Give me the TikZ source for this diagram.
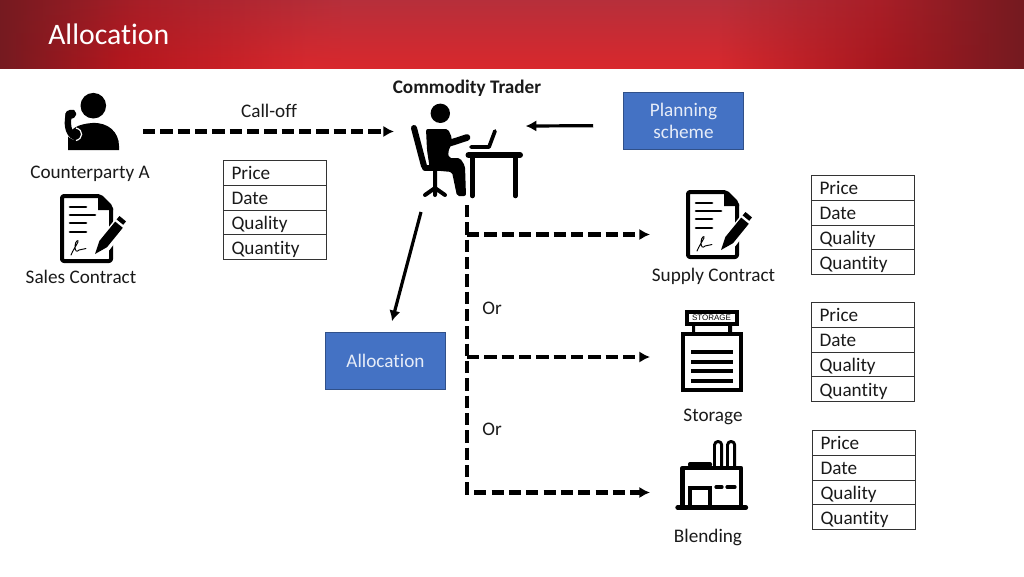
\documentclass[tikz,border=0pt]{standalone}
\usepackage{fontspec}
\setmainfont{Carlito}[RawFeature={-liga;-clig}]
\newfontfamily\signfont{Liberation Sans}
\usetikzlibrary{arrows.meta,calc,fadings,shadings}
\definecolor{bandark}{HTML}{751A20}
\definecolor{banmid}{HTML}{B5161D}
\definecolor{banmidr}{HTML}{A8181F}
\definecolor{banmidt}{HTML}{A81F28}
\definecolor{banlight}{HTML}{D9282D}
\definecolor{bantop}{HTML}{B5303C}
\definecolor{boxblue}{HTML}{4472C4}
\definecolor{boxtext}{HTML}{E6ECF8}
\definecolor{labeltext}{HTML}{1A1A1A}
\pgfdeclarehorizontalshading{bannerh}{100bp}{color(0bp)=(bandark);color(25bp)=(bandark);color(31bp)=(banmid);color(40bp)=(banlight);color(60bp)=(banlight);color(68bp)=(banmidr);color(75bp)=(bandark);color(100bp)=(bandark)}
\pgfdeclarehorizontalshading{bannertop}{100bp}{color(0bp)=(bandark);color(25bp)=(bandark);color(32bp)=(banmidt);color(42bp)=(bantop);color(60bp)=(bantop);color(68bp)=(banmidt);color(75bp)=(bandark);color(100bp)=(bandark)}
\tikzfading[name=topfade,top color=transparent!5,bottom color=transparent!100]
\tikzset{
  x=0.75pt,y=-0.75pt,
  lbl/.style={font=\fontsize{14.4pt}{17pt}\selectfont,text=labeltext,inner sep=0pt,align=center,anchor=base},
  rowcell/.style={draw=black!80,line width=0.75pt,anchor=north west,minimum height=18.6pt,text width=65.25pt,text height=12pt,text depth=1.5pt,inner xsep=6pt,inner ysep=0pt,align=left,font=\fontsize{14.4pt}{17pt}\selectfont,text=labeltext},
  bluebox/.style={fill=boxblue,draw=boxblue!70!black,line width=0.4pt,text=boxtext,font=\fontsize{14.4pt}{17pt}\selectfont,align=center,minimum width=90pt,minimum height=42.75pt,inner sep=0pt},
  iconbox/.style={draw=none,inner sep=0pt,outer sep=0pt,minimum width=#1},
  tipped/.style={-{Latex[length=8pt,width=8.5pt]}},
  dashline/.style={line width=3.2pt,dash pattern=on 9.2pt off 3.8pt,tipped},
  solidline/.style={line width=2.4pt,tipped},
  ink/.style={draw=black,line cap=round,line join=round},
}
\newcommand{\quadtable}[3]{%
  \node[rowcell] (#1a) at (#2,#3) {Price};
  \node[rowcell] (#1b) at (#2,#3+24.75) {Date};
  \node[rowcell] (#1c) at (#2,#3+49.5) {Quality};
  \node[rowcell] (#1d) at (#2,#3+74.25) {Quantity};
}
\newcommand{\contracticon}[2]{%
  \begin{scope}[shift={(#1,#2)}]
    \draw[ink,line width=3pt,rounded corners=1.5pt,fill=white] (2,2) -- (40,2) -- (51,13) -- (51,67) -- (2,67) -- cycle;
    \fill[black] (38,1) -- (53,14) -- (53,16) -- (38,16) -- cycle;
    \draw[ink,line width=2pt] (10,13) -- (26,13) (10,21) -- (35,21) (10,29) -- (26,29) (10,38) -- (26,38);
    \draw[draw=white,line width=11pt] (63,27) -- (40,56);
    \fill[black] (35,60) -- (39.4,46.9) -- (55.2,27.6) -- (62.8,33.8) -- (47,53.2) -- cycle;
    \fill[black] (56.6,25.4) -- (59.5,22) -- (66,27.4) -- (63.2,30.8) -- cycle;
    \draw[black,line width=0.7pt,line cap=round] (11,61) .. controls (13,56) and (16,52) .. (18,48) .. controls (19,45) and (15,47) .. (15,52) .. controls (15,58) and (17,58) .. (19,56) -- (26,54.5);
  \end{scope}
}
\begin{document}
\begin{tikzpicture}
\useasboundingbox (0,0) rectangle (1024,576);
\fill[white] (0,0) rectangle (1024,576);
% banner
\shade[shading=bannerh] (0,0) rectangle (1024,68);
\shade[shading=bannertop,path fading=topfade] (0,0) rectangle (1024,68);
\node[anchor=west,text=white,inner sep=0pt,font=\fontsize{22.3pt}{26pt}\selectfont] (title) at (48,34) {Allocation};

% invisible holders of the icons
\node[iconbox=42pt,minimum height=43.5pt] (person) at (91,122) {};
\node[iconbox=86.25pt,minimum height=70.5pt] (trader) at (469.5,150) {};
\node[iconbox=48pt,minimum height=52.5pt] (supply) at (718,225) {};
\node[iconbox=45.75pt,minimum height=61.5pt] (storage) at (711.5,351) {};
\node[iconbox=53.25pt,minimum height=50.25pt] (blend) at (712.5,476.5) {};

% person with phone
\fill[black] (93.3,105.7) circle[radius=12.8];
\fill[black] (68,150) -- (68,136) .. controls (70,129) and (78,124) .. (92,123) .. controls (108,122) and (119,132) .. (119,146) -- (119,150) -- cycle;
\draw[white,line width=3.5pt] (66,122) .. controls (65,130) and (69,136) .. (75,138);
\draw[black,line width=4.8pt,line cap=round] (69,114) .. controls (67,122) and (67,133) .. (75,137);
\fill[black,rounded corners=1.5pt] (65,112) -- (72,109) -- (76,111) -- (76,117) -- (71,119) -- (66,120) -- cycle;
\draw[white,line width=0.9pt] (76,128) .. controls (84,130) and (83,139) .. (76,140.5);

% commodity trader
\fill[black] (440.3,113.3) circle[radius=9.7];
\draw[ink,line width=4.5pt] (414,128) -- (424,166);
\draw[ink,line width=4.5pt] (425,168) -- (453,168);
\draw[ink,line width=3pt] (435,170) -- (435,190) (425,195) -- (435,188) -- (445,195) (435,188) -- (435,195);
\fill[black,rounded corners=1.5pt] (426,129) -- (448,129) -- (452,138) -- (451,145) -- (448,152) -- (449,158) -- (460,158) -- (465,166) -- (466,196) -- (457,196) -- (452,172) -- (430,170) -- (427,150) -- cycle;
\draw[ink,line width=5pt] (444,145) -- (467,137.5);
\draw[ink,line width=4.5pt] (468.5,155) -- (520,155);
\draw[ink,line width=3.4pt] (472.3,157) -- (472.3,196) (515.3,157) -- (515.3,196);
\draw[ink,line width=2.8pt] (471,147) -- (489,147) -- (495,131);

% supply / sales contract
\contracticon{60}{194}
\contracticon{686}{190}

% storage
\draw[black,line width=3pt,fill=white] (687,312) rectangle (736.5,324);
\node[inner sep=0pt,font=\fontsize{6pt}{7pt}\selectfont\signfont,text=black] (storagesign) at (711.5,318) {STORAGE};
\fill[black] (692,325) rectangle (695,333) (728,325) rectangle (732,333);
\draw[black,line width=3pt,fill=white] (683,334) rectangle (740.5,390);
\draw[black,line width=2.3pt] (691,352) -- (733,352) (691,362) -- (733,362) (691,371) -- (733,371) (691,381) -- (733,381);

% blending
\draw[ink,line width=2.2pt,fill=white] (714.5,467) -- (714.5,445) arc[start angle=180,end angle=360,radius=3.6] -- (721.7,467);
\draw[ink,line width=2.2pt,fill=white] (727.5,467) -- (727.5,445) arc[start angle=180,end angle=360,radius=3.6] -- (734.7,467);
\fill[black,rounded corners=1.5pt] (688,467) -- (688,462) -- (712,462) -- (712,467) -- cycle;
\draw[black,line width=3.2pt,line join=round] (682.5,507) -- (682.5,468) -- (741,468) -- (741,507);
\draw[ink,line width=3.2pt] (677.5,507.5) -- (746,507.5);
\draw[black,line width=3pt] (690,507) -- (690,487.5) -- (710,487.5) -- (710,507);
\draw[ink,line width=2.4pt] (716,487) -- (722,487) (727,487) -- (735,487);

% labels
\node[lbl,font=\bfseries\fontsize{14.4pt}{17pt}\selectfont] (traderlabel) at (467,93.5) {Commodity Trader};
\node[lbl] (calloff) at (269,117.5) {Call-off};
\node[lbl] (cptylabel) at (90,178.5) {Counterparty A};
\node[lbl] (saleslabel) at (81,283) {Sales Contract};
\node[lbl] (supplylabel) at (713.5,281.5) {Supply Contract};
\node[lbl] (storagelabel) at (713,421.5) {Storage};
\node[lbl] (blendlabel) at (708,542.5) {Blending};
\node[lbl] (or1) at (492,314.5) {Or};
\node[lbl] (or2) at (492,435.5) {Or};

% boxes
\node[bluebox] (planning) at (683.5,121) {Planning\\scheme};
\node[bluebox] (allocation) at (385.5,361) {Allocation};

% tables
\quadtable{ta}{223}{160}
\quadtable{tb}{811}{175}
\quadtable{tc}{811}{302}
\quadtable{td}{812}{430}

% connectors
\draw[dashline,shorten <=18pt,shorten >=13.5pt] ([yshift=-7.1pt]person.east) -- ([yshift=13.9pt]trader.west);
\draw[solidline,shorten <=22.5pt,shorten >=-1pt] ([yshift=-3.4pt]planning.west) -- ([yshift=18pt]trader.east);
\draw[solidline] ([shift={(-48.5,15)}]trader.south) -- ([shift={(6.5,-11)}]allocation.north);
\coordinate (j1) at (467,234.5);
\coordinate (j2) at (467,357);
\draw[dashline,shorten >=20.25pt] ([shift={(-2.5,8)}]trader.south) |- ([yshift=-12pt]blend.west);
\draw[dashline,shorten >=27pt] (j1) -- (j1 -| supply.west);
\draw[dashline,shorten >=23.25pt] (j2) -- (j2 -| storage.west);
\end{tikzpicture}
\end{document}
